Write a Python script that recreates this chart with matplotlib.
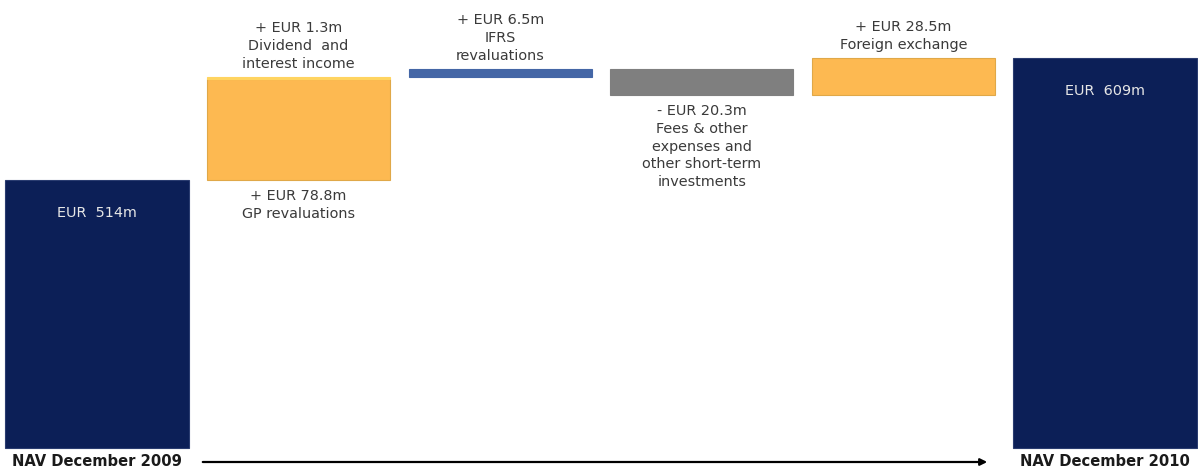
import matplotlib
matplotlib.use("Agg")
import matplotlib.pyplot as plt
from matplotlib.patches import FancyArrowPatch

# ---- data ----
start_label = "NAV December 2009"
end_label = "NAV December 2010"
start_value = 514.0
end_value = 609.0
start_text = "EUR  514m"
end_text = "EUR  609m"

step_names = ["GP revaluations", "Dividend  and\ninterest income", "IFRS\nrevaluations",
              "Fees & other\nexpenses and\nother short-term\ninvestments", "Foreign exchange"]
step_values = [78.8, 1.3, 6.5, -20.3, 28.5]
step_texts = ["+ EUR 78.8m", "+ EUR 1.3m", "+ EUR 6.5m", "- EUR 20.3m", "+ EUR 28.5m"]
step_columns = [1, 1, 2, 3, 4]
step_colors = ["#FDB951", "#FFD460", "#4466A6", "#7F7F7F", "#FDB951"]
step_label_side = ["below", "above", "above", "below", "above"]

# ---- layout ----
W, H = 1198, 473
px_per_unit = 1.284
axis_floor = 305.0  # value at the bar baseline
y_top = 654.2
y_bottom = y_top - H / px_per_unit
col_spacing = 201.6
first_center_px = 97
bar_width = 0.908

fig = plt.figure(figsize=(W / 100, H / 100), dpi=100)
ax = fig.add_axes([0, 0, 1, 1])
ax.set_xlim(-first_center_px / col_spacing, (W - first_center_px) / col_spacing)
ax.set_ylim(y_bottom, y_top)
ax.axis("off")

navy = "#0C1F57"
txt_col = "#3A3A3A"
fs = 10.4

def pt(px):
    return px * 0.72

# start and end bars
for col, val, label in [(0, start_value, start_text), (5, end_value, end_text)]:
    ax.bar(col, val - axis_floor, bottom=axis_floor, width=bar_width, color=navy,
           edgecolor="#2A3C70", linewidth=0.8)
    ax.annotate(label, (col, val), xytext=(0, -pt(33)), textcoords="offset points",
                ha="center", va="center", color="#E6E6E6", fontsize=fs)

# steps
running = start_value
for name, v, t, c, colr, side in zip(step_names, step_values, step_texts, step_columns,
                                      step_colors, step_label_side):
    lo, hi = min(running, running + v), max(running, running + v)
    edge = "#E0A848" if colr == "#FDB951" else colr
    ax.bar(c, hi - lo, bottom=lo, width=bar_width, color=colr, edgecolor=edge, linewidth=0.8)
    label = t + "\n" + name
    if side == "above":
        ax.annotate(label, (c, hi), xytext=(0, pt(6)), textcoords="offset points",
                    ha="center", va="bottom", color=txt_col, fontsize=fs, linespacing=1.35)
    else:
        ax.annotate(label, (c, lo), xytext=(0, -pt(9)), textcoords="offset points",
                    ha="center", va="top", color=txt_col, fontsize=fs, linespacing=1.35)
    running += v

# bottom labels and arrow
label_y = y_top - 462 / px_per_unit
for col, lab in [(0, start_label), (5, end_label)]:
    ax.text(col, label_y, lab, ha="center", va="center", fontsize=10.6, fontweight="bold",
            color="#1A1A1A")

arrow = FancyArrowPatch((200 / col_spacing - first_center_px / col_spacing, label_y),
                        (990 / col_spacing - first_center_px / col_spacing, label_y),
                        arrowstyle="-|>", mutation_scale=10, color="black", linewidth=1.6)
ax.add_patch(arrow)

fig.savefig("out.png", dpi=100)
